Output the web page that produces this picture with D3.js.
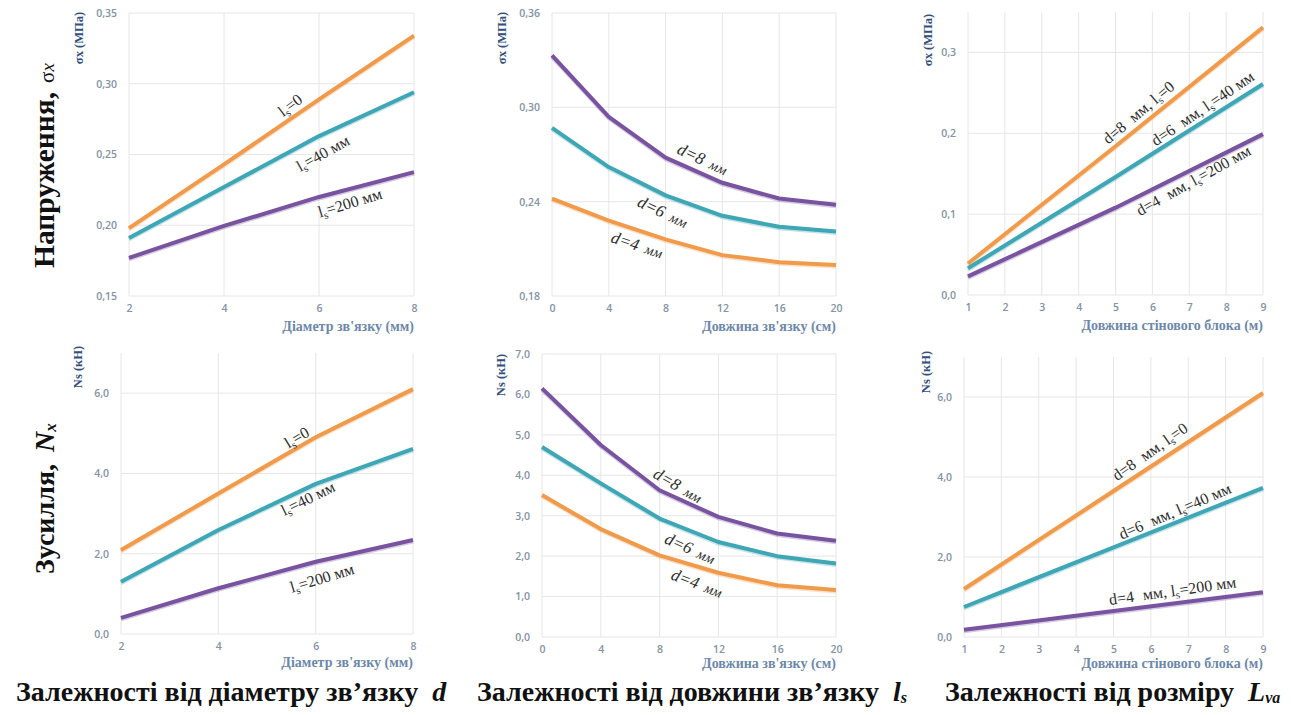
<!DOCTYPE html>
<html>
<head>
<meta charset="utf-8">
<script src="https://cdnjs.cloudflare.com/ajax/libs/d3/7.8.5/d3.min.js"></script>
<style>
  body { margin: 0; background: #fff; }
  svg { display: block; }
  .serif { font-family: 'Liberation Serif', 'DejaVu Serif', serif; }
  .sans { font-family: 'Open Sans', 'Noto Sans', sans-serif; }
</style>
</head>
<body>
<svg id="chart" width="1299" height="715"></svg>
<script>
// ---- x values ----
const diameterMm = [2, 4, 6, 8];
const tieLengthCm = [0, 4, 8, 12, 16, 20];
const blockLengthM = [1, 5, 9];

// ---- stress sigma x (MPa) ----
const sxByD_ls0 = [0.198, 0.243, 0.289, 0.334];
const sxByD_ls40 = [0.191, 0.227, 0.263, 0.294];
const sxByD_ls200 = [0.177, 0.1995, 0.220, 0.2375];

const sxByL_d8 = [0.333, 0.294, 0.268, 0.252, 0.242, 0.238];
const sxByL_d6 = [0.287, 0.262, 0.244, 0.231, 0.224, 0.221];
const sxByL_d4 = [0.242, 0.228, 0.216, 0.206, 0.2015, 0.1997];

const sxByB_d8 = [0.039, 0.184, 0.331];
const sxByB_d6 = [0.033, 0.146, 0.261];
const sxByB_d4 = [0.023, 0.108, 0.199];

// ---- force Ns (kN) ----
const nsByD_ls0 = [2.09, 3.50, 4.90, 6.10];
const nsByD_ls40 = [1.30, 2.59, 3.74, 4.61];
const nsByD_ls200 = [0.40, 1.14, 1.80, 2.34];

const nsByL_d8 = [6.15, 4.75, 3.63, 2.97, 2.56, 2.38];
const nsByL_d6 = [4.70, 3.80, 2.93, 2.35, 2.00, 1.82];
const nsByL_d4 = [3.51, 2.67, 2.02, 1.59, 1.28, 1.16];

const nsByB_d8 = [1.20, 3.65, 6.10];
const nsByB_d6 = [0.75, 2.24, 3.73];
const nsByB_d4 = [0.18, 0.65, 1.12];

// ---- tick labels ----
const sxTicksD = [0.15, 0.20, 0.25, 0.30, 0.35];
const sxTicksL = [0.18, 0.24, 0.30, 0.36];
const sxTicksB = [0, 0.1, 0.2, 0.3];
const nsTicks2 = [0, 2, 4, 6];
const nsTicks1 = [0, 1, 2, 3, 4, 5, 6, 7];
const blockTicks = [1, 2, 3, 4, 5, 6, 7, 8, 9];

// --------------------------------------------------

const ORANGE = '#f09a4c', TEAL = '#3ea6b4', PURPLE = '#7853a0';

const svg = d3.select('#chart');

// text with sub/italic pieces
function rich(sel, parts)
{
  let shift = 0;
  parts.forEach(p =>
  {
    if (typeof p === 'string') p = { t: p };
    let t = sel.append('tspan').text(p.t);
    let want = p.sub ? p.sub : 0;
    if (want !== shift) { t.attr('dy', want - shift); shift = want; }
    if (p.italic) t.style('font-style', 'italic');
    if (p.size) t.style('font-size', p.size + 'px');
    if (p.weight) t.style('font-weight', p.weight);
    if (p.dx) t.attr('dx', p.dx);
  });
  return sel;
}

const S = { t: 's', sub: 3, size: 11 };
const dLab = (n) => [{ t: 'd=' + n, italic: true, size: 17 }, { t: 'мм', italic: true, size: 14, dx: 7 }];

const panels = [
  {
    box: [129, 13, 285, 283], x: diameterMm, xDomain: [2, 8], xTicks: diameterMm,
    yDomain: [0.15, 0.35], yTicks: sxTicksD, yFmt: 2,
    series: [[sxByD_ls0, ORANGE], [sxByD_ls40, TEAL], [sxByD_ls200, PURPLE]],
    yTitle: 'σx (МПа)', yTitlePos: [-46, 25], xTitle: 'Діаметр зв\'язку (мм)', xTitleDy: 35,
    labels: [
      { at: [5.39, 0.285], r: -37, parts: ['l', S, '=0'] },
      { at: [6.08, 0.251], r: -29, parts: ['l', S, '=40 мм'] },
      { at: [6.65, 0.216], r: -17, parts: ['l', S, '=200 мм'] }
    ]
  },
  {
    box: [552, 13, 284, 283], x: tieLengthCm, xDomain: [0, 20], xTicks: tieLengthCm,
    yDomain: [0.18, 0.36], yTicks: sxTicksL, yFmt: 2,
    series: [[sxByL_d8, PURPLE], [sxByL_d6, TEAL], [sxByL_d4, ORANGE]],
    yTitle: 'σx (МПа)', yTitlePos: [-46, 25], xTitle: 'Довжина зв\'язку (см)', xTitleDy: 35,
    labels: [
      { at: [10.6, 0.267], r: 25, parts: dLab(8) },
      { at: [7.8, 0.2335], r: 25, parts: dLab(6) },
      { at: [6.0, 0.2125], r: 18, parts: dLab(4) }
    ]
  },
  {
    box: [968, 12, 295, 283], x: blockLengthM, xDomain: [1, 9], xTicks: blockTicks,
    yDomain: [0, 0.35], yTicks: sxTicksB, yFmt: 1,
    series: [[sxByB_d8, ORANGE], [sxByB_d6, TEAL], [sxByB_d4, PURPLE]],
    yTitle: 'σx (МПа)', yTitlePos: [-36, 28], xTitle: 'Довжина стінового блока (м)', xTitleDy: 35,
    labels: [
      { at: [5.62, 0.226], r: -40, parts: ['d=8 ', { t: 'мм, l', dx: 5 }, S, '=0'] },
      { at: [7.36, 0.231], r: -34, parts: ['d=6 ', { t: 'мм, l', dx: 5 }, S, '=40 мм'] },
      { at: [7.11, 0.142], r: -29, parts: ['d=4 ', { t: 'мм, l', dx: 5 }, S, '=200 мм'] }
    ]
  },
  {
    box: [121, 353, 292, 281], x: diameterMm, xDomain: [2, 8], xTicks: diameterMm,
    yDomain: [0, 7], yTicks: nsTicks2, yFmt: 1,
    series: [[nsByD_ls0, ORANGE], [nsByD_ls40, TEAL], [nsByD_ls200, PURPLE]],
    yTitle: 'Ns (кН)', yTitlePos: [-39, 14], xTitle: 'Діаметр зв\'язку (мм)', xTitleDy: 33,
    labels: [
      { at: [5.61, 4.90], r: -31, parts: ['l', S, '=0'] },
      { at: [5.84, 3.38], r: -26, parts: ['l', S, '=40 мм'] },
      { at: [6.13, 1.40], r: -17, parts: ['l', S, '=200 мм'] }
    ]
  },
  {
    box: [542, 354, 294, 283], x: tieLengthCm, xDomain: [0, 20], xTicks: tieLengthCm,
    yDomain: [0, 7], yTicks: nsTicks1, yFmt: 1,
    series: [[nsByL_d8, PURPLE], [nsByL_d6, TEAL], [nsByL_d4, ORANGE]],
    yTitle: 'Ns (кН)', yTitlePos: [-37, 21], xTitle: 'Довжина зв\'язку (см)', xTitleDy: 31,
    labels: [
      { at: [9.25, 3.75], r: 30, parts: dLab(8) },
      { at: [10.07, 2.19], r: 24, parts: dLab(6) },
      { at: [10.54, 1.33], r: 21, parts: dLab(4) }
    ]
  },
  {
    box: [964, 357, 299, 280], x: blockLengthM, xDomain: [1, 9], xTicks: blockTicks,
    yDomain: [0, 7], yTicks: nsTicks2, yFmt: 1,
    series: [[nsByB_d8, ORANGE], [nsByB_d6, TEAL], [nsByB_d4, PURPLE]],
    yTitle: 'Ns (кН)', yTitlePos: [-34, 15], xTitle: 'Довжина стінового блока (м)', xTitleDy: 31,
    labels: [
      { at: [5.97, 4.64], r: -35, parts: ['d=8 ', { t: 'мм, l', dx: 5 }, S, '=0'] },
      { at: [6.64, 3.15], r: -23, parts: ['d=6 ', { t: 'мм, l', dx: 5 }, S, '=40 мм'] },
      { at: [6.58, 1.16], r: -8, parts: ['d=4 ', { t: 'мм, l', dx: 5 }, S, '=200 мм'] }
    ]
  }
];

const comma = (f) => (v) => d3.format('.' + f + 'f')(v).replace('.', ',');

panels.forEach(p =>
{
  let [left, top, w, h] = p.box;
  let x = d3.scaleLinear().domain(p.xDomain).range([left, left + w]);
  let y = d3.scaleLinear().domain(p.yDomain).range([top + h, top]);
  let g = svg.append('g');

  // grid
  g.append('g')
    .selectAll('line')
    .data(p.xTicks)
    .join('line')
    .attr('x1', d => x(d)).attr('x2', d => x(d))
    .attr('y1', y(p.yDomain[0])).attr('y2', y(p.yDomain[1]))
    .attr('stroke', '#e6e6e6');
  g.append('g')
    .selectAll('line')
    .data(p.yTicks)
    .join('line')
    .attr('x1', x(p.xDomain[0])).attr('x2', x(p.xDomain[1]))
    .attr('y1', d => y(d)).attr('y2', d => y(d))
    .attr('stroke', '#e6e6e6');

  // axes
  let yAxis = g.append('g')
    .attr('transform', `translate(${left - 4},0)`)
    .call(d3.axisLeft(y).tickValues(p.yTicks).tickFormat(comma(p.yFmt)).tickSize(0).tickPadding(8));
  let xAxis = g.append('g')
    .attr('transform', `translate(0,${top + h + 9})`)
    .call(d3.axisBottom(x).tickValues(p.xTicks).tickFormat(d3.format('d')).tickSize(0).tickPadding(0));
  [yAxis, xAxis].forEach(a =>
  {
    a.select('.domain').remove();
    a.attr('font-family', null).attr('font-size', null);
    a.selectAll('text')
      .classed('sans', true)
      .attr('fill', '#8492a3')
      .style('font-weight', 600)
      .style('font-size', '10.5px');
  });

  // titles
  g.append('text')
    .classed('serif', true)
    .attr('transform', `translate(${left + p.yTitlePos[0]},${top + p.yTitlePos[1]}) rotate(-90)`)
    .attr('text-anchor', 'middle')
    .style('font-weight', 'bold')
    .style('font-size', '12.5px')
    .attr('fill', '#34507a')
    .text(p.yTitle);
  g.append('text')
    .classed('serif', true)
    .attr('x', left + w)
    .attr('y', top + h + p.xTitleDy)
    .attr('text-anchor', 'end')
    .style('font-weight', 'bold')
    .style('font-size', '14px')
    .attr('fill', '#6d88a9')
    .text(p.xTitle);

  // lines
  let line = d3.line().x((d, i) => x(p.x[i])).y(d => y(d));
  p.series.forEach(([vals, col]) =>
  {
    g.append('path')
      .attr('d', line(vals))
      .attr('fill', 'none')
      .attr('stroke', col)
      .attr('stroke-opacity', 0.3)
      .attr('stroke-width', 4)
      .attr('transform', 'translate(0,1.5)');
    g.append('path')
      .attr('d', line(vals))
      .attr('fill', 'none')
      .attr('stroke', col)
      .attr('stroke-width', 4)
      .attr('stroke-linejoin', 'round');
  });

  // in-plot labels
  p.labels.forEach(l =>
  {
    let t = g.append('text')
      .classed('serif', true)
      .attr('transform', `translate(${x(l.at[0])},${y(l.at[1])}) rotate(${l.r})`)
      .attr('text-anchor', 'middle')
      .attr('dy', '0.35em')
      .style('font-size', '16px')
      .attr('fill', '#2d2d2d');
    rich(t, l.parts);
  });
});

// row labels
let row1 = svg.append('text')
  .classed('serif', true)
  .attr('transform', 'translate(54,268) rotate(-90)')
  .style('font-weight', 'bold')
  .style('font-size', '29.5px')
  .attr('fill', '#111');
rich(row1, ['Напруження,', { t: 'σ', weight: 'normal', size: 21, dx: 9 }, { t: 'x', weight: 'normal', italic: true, size: 19 }]);

let row2 = svg.append('text')
  .classed('serif', true)
  .attr('transform', 'translate(54,574) rotate(-90)')
  .style('font-weight', 'bold')
  .style('font-size', '28px')
  .attr('fill', '#111');
rich(row2, ['Зусилля,', { t: 'N', italic: true, dx: 12 }, { t: 'x', italic: true, size: 17, sub: 2 }]);

// bottom captions
const captions = [
  { x: 16, parts: ['Залежності від діаметру зв’язку', { t: 'd', italic: true, dx: 14 }] },
  { x: 477, parts: ['Залежності від довжини зв’язку', { t: 'l', italic: true, dx: 14 }, { t: 's', italic: true, size: 16, sub: 2 }] },
  { x: 945, parts: ['Залежності від розміру', { t: 'L', italic: true, dx: 14 }, { t: 'va', italic: true, size: 16, sub: 2 }] }
];
captions.forEach(c =>
{
  let t = svg.append('text')
    .classed('serif', true)
    .attr('x', c.x)
    .attr('y', 701)
    .style('font-weight', 'bold')
    .style('font-size', '28px')
    .attr('fill', '#111');
  rich(t, c.parts);
});
</script>
</body>
</html>
